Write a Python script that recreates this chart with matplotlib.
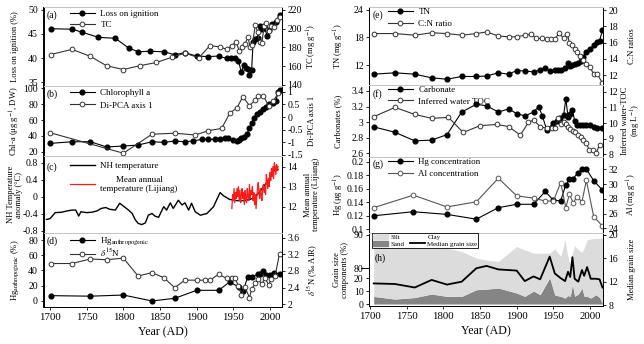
import numpy as np
import matplotlib
matplotlib.use("Agg")
import matplotlib.pyplot as plt
from matplotlib.lines import Line2D
from matplotlib.patches import Patch

plt.rcParams["font.family"] = ["Liberation Serif", "DejaVu Serif"]
plt.rcParams["mathtext.fontset"] = "stix"
plt.rcParams["axes.linewidth"] = 0.7

# ---------------- data ----------------
# (a) loss on ignition and total carbon
loi_years = [1701, 1730, 1743, 1766, 1789, 1807, 1820, 1836, 1855, 1870, 1884, 1900, 1916, 1930,
             1941, 1947, 1952, 1957, 1961, 1964, 1967, 1970, 1972, 1975, 1977, 1980, 1983, 1986,
             1989, 1992, 1996, 1999, 2003, 2008, 2013]
loi = [46.1, 46.0, 45.4, 44.3, 44.1, 42.1, 41.3, 41.4, 41.3, 40.7, 41.1, 40.4, 40.3, 40.4,
       39.9, 40.0, 40.0, 39.4, 37.0, 38.6, 38.0, 37.8, 36.5, 37.6, 43.4, 44.0, 44.2, 46.6,
       46.0, 46.6, 44.6, 45.8, 47.0, 47.5, 49.0]
tc_years = [1701, 1730, 1755, 1777, 1800, 1822, 1845, 1866, 1884, 1903, 1918, 1932, 1941, 1948,
            1954, 1958, 1962, 1966, 1970, 1973, 1976, 1980, 1983, 1986, 1989, 1992, 1995, 1998,
            2002, 2006, 2010, 2013]
tc = [172.5, 178, 170.5, 160.5, 156.5, 160.5, 164, 169.5, 174, 169, 182, 180.5, 178, 182,
      186, 176, 180, 184, 191, 180, 183, 204, 197, 186, 185, 203, 206, 198,
      203, 202, 209, 213]

# (b) chlorophyll a and diatom PCA
chl_years = [1700, 1730, 1755, 1777, 1800, 1820, 1839, 1855, 1870, 1884, 1895, 1907, 1916, 1925,
             1932, 1939, 1943, 1950, 1955, 1958, 1961, 1965, 1968, 1972, 1975, 1978, 1982, 1986,
             1991, 1995, 1999, 2004, 2008, 2011, 2014]
chl = [30.5, 32.6, 32.6, 26.0, 27.2, 28.4, 32.6, 31.8, 33.5, 32.6, 33.5, 35.6, 35.6, 35.6,
       35.6, 36.8, 36.8, 34.7, 33.9, 34.7, 36.8, 39.0, 42.0, 49.5, 55.8, 62.0, 67.0, 70.5,
       74.0, 77.0, 80.0, 81.0, 84.0, 95.0, 98.0]
pca_years = [1700, 1800, 1839, 1870, 1898, 1916, 1934, 1945, 1955, 1963, 1972, 1980, 1984, 1991,
             1998, 2004, 2011]
pca = [-0.62, -1.43, -0.68, -0.64, -0.71, -0.54, -0.45, 0.14, 0.37, 0.80, 0.45, 0.67, 0.84, 0.84,
       0.45, 0.62, 0.93]

# (c) northern hemisphere temperature anomaly and Lijiang annual mean temperature
nh_years = [1695, 1700, 1707, 1716, 1723, 1730, 1735, 1739, 1742, 1750, 1757, 1764, 1770, 1776,
            1781, 1789, 1795, 1801, 1807, 1812, 1816, 1820, 1825, 1830, 1834, 1839, 1843, 1848,
            1855, 1859, 1864, 1868, 1875, 1880, 1884, 1889, 1893, 1898, 1905, 1914, 1923, 1927,
            1932, 1937, 1945, 1955, 1964, 1973, 1980, 1986, 1993, 1998, 2002, 2007, 2011]
nh = [-0.53, -0.51, -0.37, -0.36, -0.33, -0.31, -0.31, -0.45, -0.35, -0.37, -0.36, -0.33, -0.27, -0.25,
      -0.29, -0.31, -0.15, -0.23, -0.31, -0.39, -0.53, -0.62, -0.65, -0.61, -0.43, -0.39, -0.45, -0.48,
      -0.23, -0.31, -0.14, -0.27, -0.08, -0.19, -0.14, -0.31, -0.15, -0.35, -0.43, -0.39, -0.23, -0.08,
      0.10, 0.02, -0.06, -0.09, -0.09, -0.06, 0.00, 0.12, 0.28, 0.39, 0.55, 0.64, 0.64]
lj_years = list(range(1948, 2012))
lj_temp = [11.9, 12.6, 12.3, 12.9, 12.2, 12.7, 12.4, 12.9, 12.5, 13.0, 12.3, 12.8, 12.2, 12.6,
           12.9, 12.4, 12.7, 12.1, 12.8, 12.4, 12.2, 12.9, 12.5, 12.3, 13.1, 12.4, 12.8, 12.6,
           13.0, 12.3, 12.7, 12.1, 12.6, 11.9, 12.5, 12.9, 13.2, 12.7, 12.4, 12.9, 12.6, 12.3,
           12.9, 13.1, 12.7, 13.0, 12.6, 13.6, 13.3, 12.9, 13.4, 13.0, 13.7, 13.3, 13.9, 13.5,
           14.0, 13.4, 14.2, 14.0, 13.6, 14.1, 13.8, 14.0]

# (d) anthropogenic mercury and d15N
hga_years = [1701, 1755, 1800, 1839, 1870, 1900, 1930, 1945, 1958, 1963, 1970, 1976, 1983, 1986,
             1991, 1995, 2000, 2005, 2013]
hga = [7, 6.3, 7.8, 0, 3.5, 14, 14, 25, 18, 13, 32, 32, 35, 36, 39, 34, 34, 37, 35]
d15n_years = [1701, 1730, 1755, 1777, 1800, 1820, 1839, 1855, 1870, 1884, 1900, 1911, 1918, 1930,
              1941, 1948, 1952, 1957, 1961, 1966, 1972, 1975, 1980, 1984, 1989, 1993, 1998, 2002,
              2007, 2013]
d15n = [2.98, 2.98, 3.09, 3.07, 3.11, 2.68, 2.76, 2.64, 2.40, 2.58, 2.58, 2.58, 2.58, 2.72,
        2.62, 2.62, 2.62, 2.45, 2.22, 2.41, 2.16, 2.37, 2.50, 2.60, 2.48, 2.64, 2.47, 2.60,
        2.68, 3.22]

# (e) total nitrogen and C:N
tn_years = [1705, 1734, 1761, 1784, 1805, 1825, 1845, 1859, 1875, 1889, 1900, 1911, 1923, 1932,
            1939, 1945, 1952, 1957, 1961, 1966, 1970, 1973, 1976, 1980, 1984, 1988, 1991, 1995,
            2000, 2005, 2009, 2013, 2017]
tn = [10.0, 10.3, 10.0, 9.2, 8.9, 9.5, 9.5, 9.6, 10.3, 10.0, 10.8, 10.7, 10.5, 10.9,
      11.3, 10.8, 10.9, 10.9, 10.9, 11.3, 12.4, 11.8, 12.0, 12.2, 12.5, 12.9, 13.8, 14.9,
      15.4, 16.4, 17.1, 17.3, 19.6]
cn_years = [1705, 1734, 1761, 1784, 1805, 1825, 1845, 1859, 1875, 1889, 1900, 1911, 1920, 1927,
            1934, 1941, 1947, 1952, 1958, 1964, 1969, 1972, 1975, 1979, 1982, 1986, 1991, 1995,
            2000, 2005, 2010, 2017]
cn = [17.1, 17.1, 16.9, 17.2, 17.1, 16.9, 17.1, 17.3, 16.8, 16.7, 16.7, 16.9, 17.0, 16.5,
      16.5, 16.4, 16.4, 16.4, 17.2, 16.5, 17.1, 15.9, 15.7, 15.2, 14.8, 14.3, 13.9, 13.4,
      13.0, 12.1, 12.1, 11.0]

# (f) carbonate and inferred water TOC
carb_years = [1705, 1734, 1761, 1784, 1805, 1825, 1845, 1859, 1875, 1889, 1900, 1911, 1923, 1930,
              1935, 1941, 1950, 1955, 1959, 1964, 1967, 1970, 1973, 1976, 1979, 1982, 1986, 1991,
              1995, 2000, 2005, 2010, 2016]
carb = [2.94, 2.87, 2.76, 2.77, 2.84, 3.13, 3.23, 3.21, 3.13, 3.17, 3.11, 3.08, 3.13, 3.20,
        3.08, 2.90, 2.99, 3.02, 3.05, 3.09, 3.30, 3.07, 3.11, 3.16, 3.02, 2.97, 2.96, 2.96,
        2.97, 2.97, 2.94, 2.93, 2.92]
toc_years = [1705, 1734, 1761, 1784, 1807, 1827, 1850, 1873, 1889, 1905, 1916, 1923, 1932, 1941,
             1948, 1952, 1957, 1960, 1964, 1967, 1970, 1973, 1977, 1980, 1984, 1988, 1991, 1995,
             1999, 2004, 2008, 2013]
toc = [10.4, 11.0, 10.55, 10.3, 10.36, 9.4, 9.83, 9.91, 9.77, 9.23, 10.04, 10.19, 9.77, 9.66,
       9.66, 9.66, 10.3, 9.91, 10.04, 9.91, 9.77, 9.6, 9.5, 9.4, 9.23, 9.1, 8.9, 8.7,
       8.28, 8.28, 8.06, 8.6]

# (g) mercury and aluminium concentrations
hg_years = [1705, 1759, 1805, 1845, 1875, 1900, 1923, 1939, 1950, 1960, 1967, 1972, 1977, 1983,
            1989, 1995, 2005, 2017]
hg = [0.120, 0.126, 0.122, 0.115, 0.132, 0.137, 0.137, 0.156, 0.143, 0.142, 0.166, 0.174, 0.175,
      0.183, 0.189, 0.189, 0.172, 0.158]
al_years = [1705, 1759, 1805, 1845, 1875, 1900, 1923, 1939, 1950, 1960, 1967, 1972, 1977, 1982,
            1989, 1995, 2005, 2017]
al = [26.8, 28.5, 26.9, 27.6, 30.8, 28.4, 28.1, 27.7, 27.7, 30.2, 26.8, 28.7, 27.4, 28.3,
      27.6, 30.5, 25.6, 24.3]

# (h) grain size components and median grain size
gs_years = [1705, 1734, 1761, 1784, 1805, 1825, 1845, 1859, 1875, 1900, 1911, 1923, 1932, 1945,
            1952, 1960, 1966, 1970, 1973, 1976, 1979, 1984, 1989, 1992, 1996, 2001, 2008, 2013, 2017]
sand = [5.9, 3.8, 5.0, 7.7, 5.9, 5.9, 11.0, 11.5, 12.3, 8.5, 5.9, 10.0, 7.2, 21.0,
        7.0, 5.9, 4.6, 6.5, 6.0, 15.0, 6.0, 7.7, 12.3, 6.0, 6.0, 4.6, 7.2, 5.0, 0.5]
silt = [82.1, 84.2, 82.8, 79.3, 80.1, 79.1, 72.0, 70.9, 69.7, 78.0, 79.6, 74.5, 77.3, 63.5,
        78.8, 77.6, 83.9, 76.5, 75.2, 69.5, 80.8, 77.8, 72.5, 80.0, 82.5, 84.2, 81.8, 84.0, 88.5]
median_gs = [11.7, 11.6, 11.0, 12.3, 11.5, 12.0, 14.3, 14.7, 14.1, 13.9, 12.1, 12.9, 12.4, 16.3,
             13.4, 12.6, 12.1, 13.7, 12.8, 16.2, 12.5, 12.0, 14.0, 13.0, 14.5, 12.5, 12.5, 12.4, 11.0]

year_ticks = [1700, 1750, 1800, 1850, 1900, 1950, 2000]

# ---------------- layout ----------------
W, H = 644, 344
fig = plt.figure(figsize=(W / 100, H / 100), dpi=100)

XL = (1691, 2016.4)
XR = (1698.6, 2017.7)
SEP = "#c4c4c4"
LABFS = 6.1


def rect(x0, y0, x1, y1):
    return [x0 / W, 1 - y1 / H, (x1 - x0) / W, (y1 - y0) / H]


def make(box, xlim, yl, yr, lticks, rticks, bottom=False, lfmt=None, rfmt=None):
    ax = fig.add_axes(rect(*box))
    ax2 = ax.twinx()
    ax.set_xlim(xlim)
    ax.set_ylim(yl)
    ax2.set_ylim(yr)
    ax.set_yticks(lticks)
    ax2.set_yticks(rticks)
    if lfmt:
        ax.set_yticklabels(lfmt)
    if rfmt:
        ax2.set_yticklabels(rfmt)
    for a in (ax, ax2):
        a.spines["top"].set_color(SEP)
        a.spines["bottom"].set_color("black" if bottom else SEP)
        a.tick_params(axis="y", direction="out", length=2.5, width=0.6, labelsize=7, pad=1.5)
    if bottom:
        ax.set_xticks(year_ticks)
        ax.tick_params(axis="x", direction="out", length=2.5, width=0.6, labelsize=7.8, pad=2)
        ax.set_xlabel("Year (AD)", fontsize=8.6, labelpad=3)
    else:
        ax.tick_params(axis="x", bottom=False, labelbottom=False)
    ax2.tick_params(axis="x", bottom=False, labelbottom=False)
    return ax, ax2


def filled(ax, x, y, label):
    ax.plot(x, y, color="black", lw=0.8, marker="o", ms=3.4, mfc="black", mec="black", label=label)


def hollow(ax, x, y, label, col="#333333"):
    ax.plot(x, y, color=col, lw=0.8, marker="o", ms=3.4, mfc="white", mec=col, mew=0.7, label=label)


def legend(ax, ax2, x, y, fs=6.5, hl=2.8, ls=0.25):
    h1, l1 = ax.get_legend_handles_labels()
    h2, l2 = ax2.get_legend_handles_labels()
    lg = ax2.legend(h1 + h2, l1 + l2, loc="upper left", bbox_to_anchor=(x, y), frameon=False,
                    fontsize=fs, handlelength=hl, handletextpad=0.6, labelspacing=ls,
                    borderpad=0, borderaxespad=0)
    return lg


def letter(ax, s, x=0.015, y=0.9):
    ax.text(x, y, s, transform=ax.transAxes, fontsize=7, va="center", ha="left")


def labels(ax, ax2, left, right, lx, rx):
    ax.set_ylabel(left, fontsize=LABFS, va="center", ha="center", linespacing=1.0)
    ax2.set_ylabel(right, fontsize=LABFS, va="center", ha="center", linespacing=1.0)
    ax.yaxis.set_label_coords(lx, 0.5)
    ax2.yaxis.set_label_coords(rx, 0.5)


# label centres in axes fractions
LL, LR = -0.12, 1.126      # left column
RL, RR = -0.13, 1.124      # right column

# (a)
ax, ax2 = make((43.5, 7, 282, 86), XL, (34.17, 50.62), (138.9, 223.2),
               [35, 40, 45, 50], [140, 160, 180, 200, 220])
filled(ax, loi_years, loi, "Loss on ignition")
hollow(ax2, tc_years, tc, "TC")
legend(ax, ax2, 0.11, 0.96)
letter(ax, "(a)")
labels(ax, ax2, "Loss on ignition (%)", "TC (mg g$^{-1}$)", LL, LR)

# (b)
ax, ax2 = make((43.5, 86, 282, 156), XL, (14.6, 102.9), (-1.54, 1.225),
               [20, 40, 60, 80, 100], [-1.5, -1, -0.5, 0, 0.5, 1],
               rfmt=["-1.5", "-1", "-0.5", "0", "0.5", "1"])
filled(ax, chl_years, chl, "Chlorophyll a")
hollow(ax2, pca_years, pca, "Di-PCA axis 1")
legend(ax, ax2, 0.11, 0.96, ls=0.45)
letter(ax, "(b)", y=0.88)
labels(ax, ax2, "Chl-a (μg g$^{-1}$, DW)", "Di-PCA axis 1", LL, LR)

# (c)
ax, ax2 = make((43.5, 156, 282, 233), XL, (-0.847, 0.957), (10.68, 14.53),
               [-0.8, -0.4, 0, 0.4, 0.8], [12, 13, 14],
               lfmt=["-0.8", "-0.4", "0", "0.4", "0.8"])
ax.plot(nh_years, nh, color="black", lw=1.0, label="NH temperature")
ax2.plot(lj_years, lj_temp, color="#ff1a1a", lw=0.9, label="Mean annual\ntemperature (Lijiang)")
lg = legend(ax, ax2, 0.11, 0.92, ls=0.6)
for t in lg.get_texts():
    t.set_multialignment("center")
letter(ax, "(c)", y=0.86)
labels(ax, ax2, "NH Temperature\nanomaly (°C)", "Mean annual\ntemperature (Lijiang)", LL, LR)

# (d)
ax, ax2 = make((43.5, 233, 282, 307), XL, (-7.9, 89.2), (1.935, 3.713),
               [0, 20, 40, 60, 80], [2, 2.4, 2.8, 3.2, 3.6],
               rfmt=["2", "2.4", "2.8", "3.2", "3.6"], bottom=True)
filled(ax, hga_years, hga, r"Hg$_{\mathrm{anthropogenic}}$")
hollow(ax2, d15n_years, d15n, r"$\delta^{15}$N")
legend(ax, ax2, 0.11, 0.97, ls=0.0)
letter(ax, "(d)", y=0.89)
labels(ax, ax2, r"Hg$_{\mathrm{anthropogenic}}$ (%)", r"$\delta^{15}$N (‰ AIR)", LL, LR)

# (e)
ax, ax2 = make((369, 7, 603, 85), XR, (7.64, 24.65), (10.77, 20.37),
               [12, 18, 24], [12, 14, 16, 18, 20])
filled(ax, tn_years, tn, "TN")
hollow(ax2, cn_years, cn, "C:N ratio")
legend(ax, ax2, 0.08, 0.99, ls=0.45)
letter(ax, "(e)", x=0.017, y=0.9)
labels(ax, ax2, "TN (mg g$^{-1}$)", "C:N ratios", RL, RR)

# (f)
ax, ax2 = make((369, 85, 603, 157), XR, (2.553, 3.477), (7.83, 12.43),
               [2.6, 2.8, 3.0, 3.2, 3.4], [8, 9, 10, 11, 12],
               lfmt=["2.6", "2.8", "3", "3.2", "3.4"])
filled(ax, carb_years, carb, "Carbonate")
hollow(ax2, toc_years, toc, "Inferred water TOC")
legend(ax, ax2, 0.08, 0.99, ls=0.35)
letter(ax, "(f)", x=0.017, y=0.88)
labels(ax, ax2, "Carbonates (%)", "Inferred water-TOC\n(mg L$^{-1}$)", RL, RR)

# (g)
ax, ax2 = make((369, 157, 603, 233), XR, (0.0945, 0.207), (23.37, 33.67),
               [0.1, 0.12, 0.14, 0.16, 0.18, 0.2], [24, 26, 28, 30, 32],
               lfmt=["0.1", "0.12", "0.14", "0.16", "0.18", "0.2"])
filled(ax, hg_years, hg, "Hg concentration")
hollow(ax2, al_years, al, "Al concentration", col="#555555")
legend(ax, ax2, 0.08, 0.99, ls=0.45)
letter(ax, "(g)", x=0.017, y=0.9)
labels(ax, ax2, "Hg (μg g$^{-1}$)", "Al (mg g$^{-1}$)", RL, RR)

# (h) broken percentage axis: 0-20 and 80-90 drawn at different scales
seg_v = [-20, 0, 20, 80, 110]
seg_p = [-26, 0, 26, 36, 135]


def fwd(v):
    return np.interp(v, seg_v, seg_p)


def inv(p):
    return np.interp(p, seg_p, seg_v)


ax, ax2 = make((369, 233, 603, 306), XR, (0, 90), (7.83, 20.34),
               [0, 10, 20, 80, 90], [8, 12, 16, 20], bottom=True)
ax.set_yscale("function", functions=(fwd, inv))
ax.set_ylim(-1.5, 90.6)
ax.set_yticks([0, 10, 20, 80, 90])
ax.set_yticklabels(["0", "10", "20", "80", "90"])
ax.minorticks_off()
sand_a = np.array(sand)
silt_a = np.array(silt)
ax.fill_between(gs_years, 0, sand_a, color="#858585", lw=0)
ax.fill_between(gs_years, sand_a, sand_a + silt_a, color="#dcdcdc", lw=0)
ax2.plot(gs_years, median_gs, color="black", lw=1.3)
ax.plot([-0.035, 0.0], [80, 80], transform=ax.get_yaxis_transform(), color="black", lw=0.7,
        clip_on=False)
hs = [Patch(color="#dcdcdc"), Patch(color="#858585"), Patch(facecolor="white", edgecolor="none"),
      Line2D([], [], color="black", lw=1.3)]
ls_ = ["Silt", "Sand", "Clay", "Median grain size"]
lg = ax2.legend(hs, ls_, ncol=2, loc="upper left", bbox_to_anchor=(0.013, 1.0), fontsize=5,
                frameon=True, fancybox=False, edgecolor="black", framealpha=1, handlelength=2.1,
                handleheight=0.8, handletextpad=0.4, columnspacing=0.8, labelspacing=0.12,
                borderpad=0.15, borderaxespad=0)
lg.get_frame().set_linewidth(0.6)
letter(ax, "(h)", x=0.025, y=0.66)
labels(ax, ax2, "Grain size\ncomponents (%)", "Median grain size", RL + 0.01, RR)

fig.savefig("out.png", dpi=100)
